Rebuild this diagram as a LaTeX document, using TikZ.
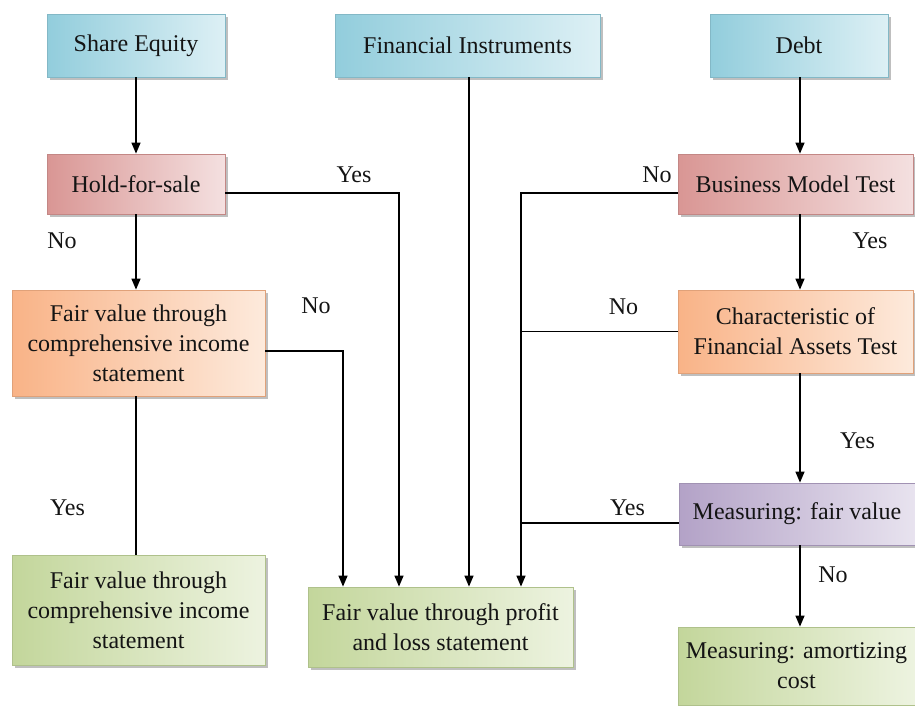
\documentclass[tikz,border=0pt]{standalone}
\usepackage{fontspec}
\setmainfont{Liberation Serif}
\usetikzlibrary{arrows.meta,shadows,calc}
\definecolor{bD}{HTML}{92CDDC}\definecolor{bL}{HTML}{DDF0F5}
\definecolor{rD}{HTML}{D99694}\definecolor{rL}{HTML}{F4E0E0}
\definecolor{oD}{HTML}{F9B387}\definecolor{oL}{HTML}{FDEADC}
\definecolor{pD}{HTML}{B3A2C7}\definecolor{pL}{HTML}{E8E3EF}
\definecolor{gD}{HTML}{C3D69B}\definecolor{gL}{HTML}{EDF3E0}
\definecolor{txt}{HTML}{141414}
\tikzset{
  box/.style={draw=#1D!90!black, line width=0.8pt, left color=#1D, right color=#1L,
    align=center, inner sep=2pt, text=txt,
    drop shadow={shadow xshift=3pt, shadow yshift=-3pt, fill=black!45, opacity=0.55}},
  lbl/.style={anchor=base, text=txt, inner sep=0pt},
  arr/.style={line width=1.3pt, -{Triangle[length=11pt,width=9pt]}},
  ln/.style={line width=1.3pt},
}
\begin{document}
\begin{tikzpicture}[x=1pt,y=-1pt,font=\fontsize{24}{30}\selectfont]
\useasboundingbox[fill=white] (0,0) rectangle (915,705);
% top row
\node[box=b, minimum width=178pt, minimum height=63pt] (se) at (136,45.5) {Share Equity};
\node[box=b, minimum width=265pt, minimum height=63pt] (fi) at (467.5,45.5) {Financial Instruments};
\node[box=b, minimum width=178pt, minimum height=63pt] (debt) at (799,45.5) {Debt};
% second row
\node[box=r, minimum width=178pt, minimum height=60pt] (hfs) at (136,184) {Hold-for-sale};
\node[box=r, minimum width=235pt, minimum height=60pt] (bmt) at (795.5,184) {Business Model Test};
% third row
\node[box=o, minimum width=253pt, minimum height=106pt] (fvc) at (138.5,343) {Fair value through\\comprehensive income\\statement};
\node[box=o, minimum width=235pt, minimum height=83pt] (char) at (795.5,331.5) {Characteristic of\\Financial Assets Test};
% fourth row
\node[box=p, minimum width=236pt, minimum height=62pt] (mfv) at (797,514) {Measuring: fair value};
% bottom row
\node[box=g, minimum width=253pt, minimum height=110pt] (fvc2) at (138.5,610) {Fair value through\\comprehensive income\\statement};
\node[box=g, minimum width=265pt, minimum height=80pt] (fvpl) at (440.5,627) {Fair value through profit\\and loss statement};
\node[box=g, minimum width=237pt, minimum height=78pt] (amort) at (796.5,666) {Measuring: amortizing\\cost};
% junction coordinates
\coordinate (jY) at ([xshift=-41.5pt]fvpl.north);
\coordinate (jN) at ([xshift=-97.5pt]fvpl.north);
\coordinate (jF) at ([xshift=28.5pt]fvpl.north);
\coordinate (jR) at ([xshift=80.5pt]fvpl.north);
% left column
\draw[arr] (se.south) -- (se.south |- hfs.north);
\draw[arr] (hfs.south) -- (hfs.south |- fvc.north);
\draw[ln] (fvc.south -| hfs.south) -- (hfs.south |- fvc2.north);
\draw[arr] ([yshift=-9pt]hfs.east) -| (jY);
\draw[arr] ([yshift=-8pt]fvc.east) -| (jN);
% middle
\draw[arr] ([xshift=1.5pt]fi.south) -- (jF);
% right column
\draw[arr] ([yshift=-9pt]bmt.west) -| (jR);
\draw[ln] (char.west) -- (char.west -| jR);
\draw[ln] ([yshift=-9pt]mfv.west) -- ([yshift=-9pt]mfv.west -| jR);
\draw[arr] ([xshift=1pt]debt.south) -- ([xshift=1pt]debt.south |- bmt.north);
\draw[arr] ([xshift=1pt]debt.south |- bmt.south) -- ([xshift=1pt]debt.south |- char.north);
\draw[arr] ([xshift=1pt]debt.south |- char.south) -- ([xshift=1pt]debt.south |- mfv.north);
\draw[arr] ([xshift=1pt]debt.south |- mfv.south) -- ([xshift=1pt]debt.south |- amort.north);
% labels
\node[lbl] (l1) at (62,248) {No};
\node[lbl] (l2) at (354,182) {Yes};
\node[lbl] (l3) at (316,313) {No};
\node[lbl] (l4) at (67.5,515) {Yes};
\node[lbl] (l5) at (657,182) {No};
\node[lbl] (l6) at (870,248) {Yes};
\node[lbl] (l7) at (623.5,314) {No};
\node[lbl] (l8) at (857.5,448) {Yes};
\node[lbl] (l9) at (627.5,515) {Yes};
\node[lbl] (l10) at (833,582) {No};
\end{tikzpicture}
\end{document}
